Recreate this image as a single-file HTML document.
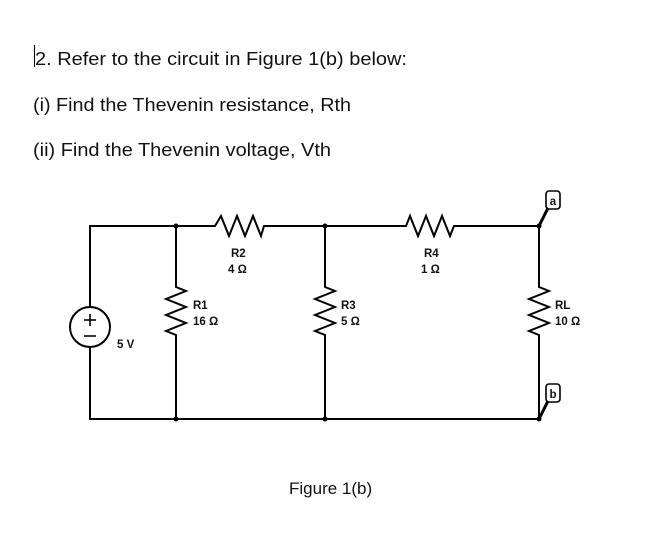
<!DOCTYPE html>
<html><head><meta charset="utf-8"><style>
html,body{margin:0;padding:0;background:#fff;width:650px;height:537px;overflow:hidden}
svg{display:block}
.t{font-family:"Liberation Sans",sans-serif;font-size:18px;fill:#111}
.l{font-family:"Liberation Sans",sans-serif;font-size:11.5px;font-weight:bold;fill:#111}
</style></head><body>
<svg width="650" height="537" viewBox="0 0 650 537">
<line x1="34.5" y1="45" x2="34.5" y2="67" stroke="#000" stroke-width="1"/>
<text class="t" x="35" y="65" textLength="372" lengthAdjust="spacingAndGlyphs">2. Refer to the circuit in Figure 1(b) below:</text>
<text class="t" x="33" y="111" textLength="318" lengthAdjust="spacingAndGlyphs">(i) Find the Thevenin resistance, Rth</text>
<text class="t" x="33" y="156" textLength="298" lengthAdjust="spacingAndGlyphs">(ii) Find the Thevenin voltage, Vth</text>
<g stroke="#000" stroke-width="2" fill="none" stroke-linejoin="miter">
<polyline points="90,306 90,226 215,226 221,216 229,236 237,216 245,236 253,216 261,236 264,226 406,226 410,216 418,236 426,216 434,236 442,216 450,236 454,226 539,226"/>
<polyline points="90,347 90,419 539,419"/>
<polyline points="176,226 176,287 186,291 166,299 186,307 166,315 186,323 166,331 176,335 176,419"/>
<polyline points="325,226 325,287 335,291 315,299 335,307 315,315 335,323 315,331 325,335 325,419"/>
<polyline points="539,226 539,287 549,291 529,299 549,307 529,315 549,323 529,331 539,335 539,419"/>
<circle cx="90" cy="327" r="20"/>
</g>
<g stroke="#000" stroke-width="1.6">
<line x1="84" y1="320" x2="96" y2="320"/><line x1="90" y1="314" x2="90" y2="326"/>
<line x1="84" y1="336" x2="96" y2="336"/>
</g>
<g fill="#000">
<circle cx="176" cy="226" r="2.5"/><circle cx="325" cy="226" r="2.5"/><circle cx="539" cy="226" r="2.5"/>
<circle cx="176" cy="419" r="2.5"/><circle cx="325" cy="419" r="2.5"/><circle cx="539" cy="419" r="2.5"/>
</g>
<g stroke="#000" stroke-width="3"><line x1="539" y1="226" x2="548" y2="208"/><line x1="539" y1="419" x2="548" y2="401"/></g>
<rect x="546" y="191" width="14" height="18" rx="3" fill="#fff" stroke="#000" stroke-width="1.6"/>
<rect x="546" y="384" width="14" height="18" rx="3" fill="#fff" stroke="#000" stroke-width="1.6"/>
<text class="l" x="553" y="205" text-anchor="middle">a</text>
<text class="l" x="553" y="398" text-anchor="middle">b</text>
<text class="l" x="231" y="257">R2</text><text class="l" x="228" y="273">4 Ω</text>
<text class="l" x="424" y="257">R4</text><text class="l" x="421" y="273">1 Ω</text>
<text class="l" x="193" y="309">R1</text><text class="l" x="193" y="325">16 Ω</text>
<text class="l" x="341" y="309">R3</text><text class="l" x="341" y="325">5 Ω</text>
<text class="l" x="555" y="309">RL</text><text class="l" x="555" y="325">10 Ω</text>
<text class="l" x="117" y="348">5 V</text>
<text x="289" y="494" style="font-family:'Liberation Sans',sans-serif;font-size:17px;fill:#111">Figure 1(b)</text>
</svg>
</body></html>
